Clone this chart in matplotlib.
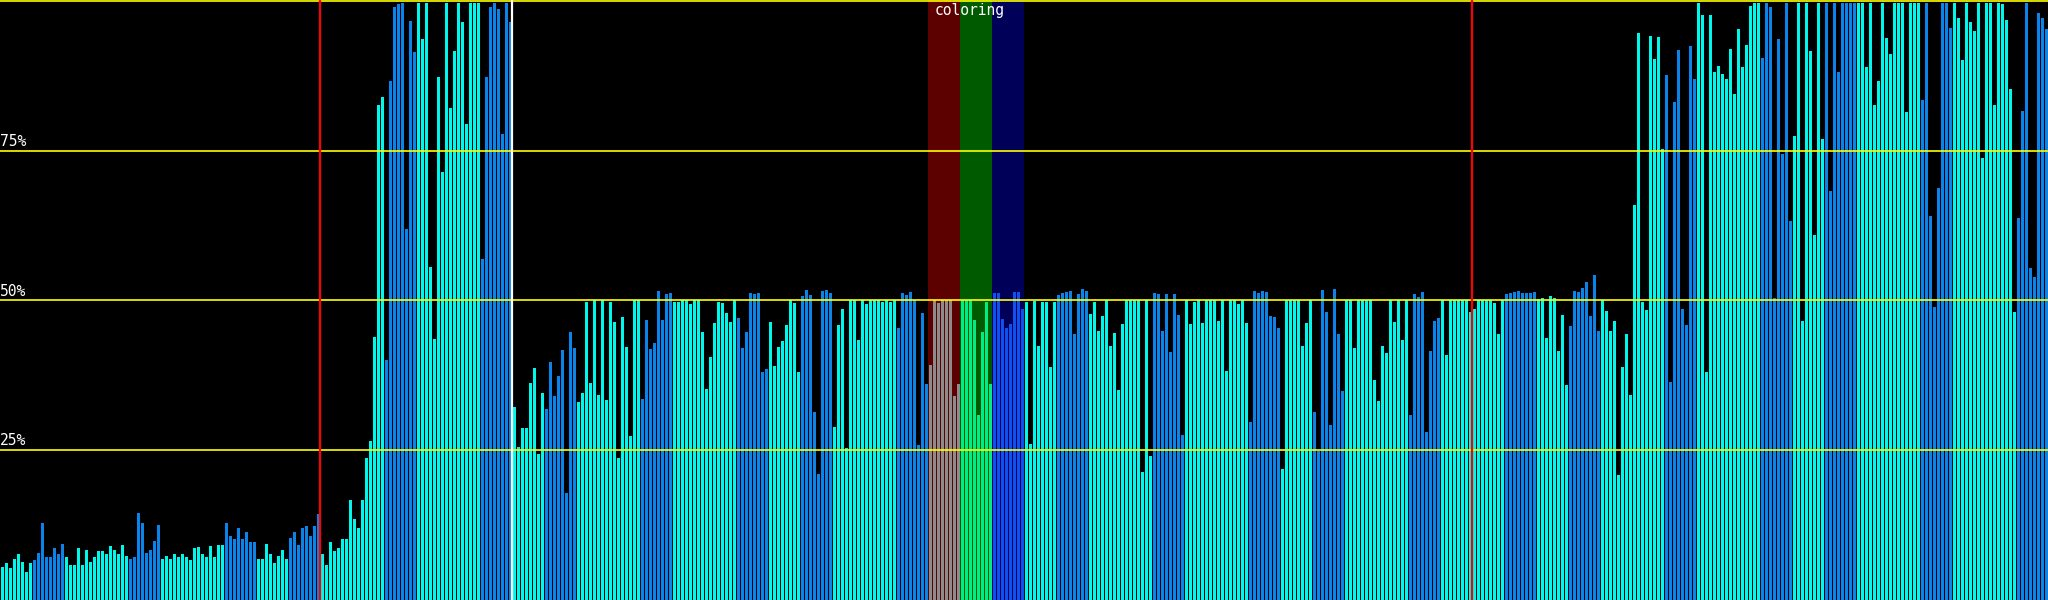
import matplotlib
matplotlib.use("Agg")
import matplotlib.pyplot as plt
import numpy as np

# bar heights in percent (512 bars)
vals_a = [
    5.5, 6.2, 5.3, 6.8, 7.6, 6.4, 4.6, 6.1,
    6.6, 7.9, 12.9, 7.1, 7.1, 8.6, 7.6, 9.3,
    7.1, 5.9, 5.8, 8.6, 5.9, 8.4, 6.3, 7.2,
    8.1, 8.1, 7.7, 9.0, 8.3, 7.6, 9.1, 7.4,
    6.8, 7.2, 14.6, 12.9, 7.9, 8.3, 9.9, 12.6,
    6.8, 7.4, 6.9, 7.7, 7.2, 7.6, 7.2, 6.6,
    8.6, 8.8, 7.6, 7.1, 9.0, 7.1, 9.1, 9.1,
    12.9, 10.7, 10.2, 12.1, 10.2, 11.3, 9.6, 9.6,
    6.9, 6.8, 9.3, 7.7, 6.1, 7.4, 8.4, 6.8,
    10.4, 11.3, 9.1, 12.1, 12.3, 10.6, 12.3, 14.4,
    7.7, 5.8, 9.6, 8.1, 8.6, 10.1, 10.2, 16.7,
    13.6, 12.0, 16.7, 23.7, 26.6, 43.9, 82.7, 84.0,
    40.0, 86.7, 99.0, 99.5, 99.7, 61.9, 96.7, 91.5,
    99.7, 93.7, 99.7, 55.5, 43.6, 87.3, 71.5, 99.7,
    82.2, 91.7, 99.7, 96.4, 79.5, 99.7, 99.7, 99.7,
    56.9, 87.3, 99.0, 99.7, 98.7, 77.7, 99.7, 96.4,
]
vals_b = [
    32.2, 25.6, 28.7, 28.7, 36.2, 38.7, 24.4, 34.6,
    31.8, 39.7, 34.1, 37.4, 41.7, 17.8, 44.7, 42.1,
    33.0, 34.6, 49.7, 36.2, 50.0, 34.3, 50.0, 33.4,
    49.7, 46.4, 23.7, 47.2, 42.2, 27.4, 50.0, 50.0,
    33.5, 46.7, 41.9, 42.9, 51.6, 46.7, 51.1, 51.2,
    49.7, 49.7, 50.0, 50.0, 49.4, 50.0, 50.0, 44.7,
    35.2, 40.6, 46.2, 49.7, 49.5, 47.9, 46.4, 50.0,
    47.1, 42.1, 44.7, 51.2, 51.1, 51.2, 38.1, 38.6,
    46.4, 39.1, 42.2, 43.2, 45.9, 50.0, 49.5, 38.1,
    50.7, 51.7, 50.9, 31.4, 21.1, 51.6, 51.7, 51.2,
    28.9, 45.9, 48.5, 25.4, 50.0, 50.0, 43.4, 50.0,
    49.4, 50.0, 50.0, 50.0, 49.7, 50.0, 49.7, 50.0,
    45.4, 51.2, 50.9, 51.4, 50.0, 25.9, 47.9, 36.0,
    39.2, 50.0, 49.5, 50.0, 50.0, 50.0, 34.1, 36.0,
    50.0, 50.0, 50.0, 46.7, 30.9, 44.7, 49.7, 36.0,
    51.2, 51.2, 46.9, 45.4, 46.0, 51.4, 51.4, 48.5,
]
vals_c = [
    49.7, 26.1, 49.9, 42.4, 49.7, 49.7, 38.9, 49.7,
    50.9, 51.2, 51.4, 51.6, 44.4, 51.1, 51.9, 51.6,
    47.7, 49.7, 44.9, 47.4, 50.0, 42.4, 44.6, 35.1,
    46.0, 50.0, 50.0, 50.0, 50.0, 21.4, 50.0, 24.1,
    51.2, 51.1, 44.9, 51.1, 41.4, 51.1, 47.6, 27.6,
    50.0, 46.0, 49.7, 50.0, 46.2, 50.0, 50.0, 50.0,
    46.5, 50.0, 38.2, 50.0, 50.0, 49.4, 50.0, 46.2,
    29.7, 51.6, 51.2, 51.6, 51.4, 47.4, 47.2, 45.4,
    21.9, 50.0, 50.0, 50.0, 50.0, 42.4, 46.2, 50.0,
    31.4, 24.8, 51.7, 48.1, 29.2, 51.9, 44.4, 34.9,
    50.0, 50.0, 42.1, 50.0, 50.0, 50.0, 50.0, 36.7,
    33.2, 42.4, 41.2, 50.0, 46.4, 50.0, 43.4, 50.0,
    30.9, 51.1, 50.6, 51.4, 28.1, 41.6, 46.5, 47.1,
    50.0, 40.9, 50.0, 50.0, 50.0, 50.0, 50.0, 48.1,
    48.5, 50.0, 50.0, 50.0, 50.0, 49.5, 44.4, 50.0,
    51.1, 51.2, 51.4, 51.6, 51.2, 51.2, 51.2, 51.4,
]
vals_d = [
    50.2, 50.4, 43.7, 50.7, 50.4, 41.6, 47.6, 35.9,
    45.7, 51.6, 51.4, 52.0, 53.0, 47.4, 54.2, 44.9,
    50.0, 48.2, 44.9, 46.5, 20.9, 38.9, 44.4, 34.3,
    65.9, 94.6, 49.7, 48.4, 94.2, 90.3, 94.0, 75.3,
    87.7, 36.4, 83.2, 91.8, 48.5, 45.9, 92.5, 86.9,
    99.7, 97.6, 38.1, 97.6, 88.1, 89.2, 87.8, 86.9,
    92.0, 84.5, 95.3, 89.0, 92.7, 99.2, 99.7, 99.7,
    90.5, 99.7, 98.9, 50.4, 93.7, 74.5, 99.7, 63.2,
    77.5, 99.7, 46.5, 99.7, 91.7, 61.0, 99.7, 77.0,
    99.7, 68.2, 99.7, 88.1, 99.7, 99.7, 99.7, 99.7,
    99.7, 99.7, 89.0, 99.7, 82.7, 86.7, 99.7, 93.8,
    91.1, 99.7, 99.7, 99.7, 81.5, 99.7, 99.7, 99.7,
    83.5, 99.7, 64.1, 48.9, 68.8, 99.7, 99.7, 95.5,
    99.7, 97.2, 90.2, 99.7, 96.4, 95.0, 99.7, 73.7,
    99.7, 99.7, 82.7, 99.7, 99.5, 96.8, 85.3, 48.1,
    63.7, 81.7, 99.7, 55.4, 53.9, 98.0, 97.2, 95.3,
]

# colour of each block of 8 bars
group = ["c", "b", "c", "c", "b", "c", "c", "b", "c", "b", "c", "c", "b", "c", "c", "b"]
block_keys = group + group[:13] + ["r", "g", "u"] + group + group
palette = {"c": "#00f8ec", "b": "#0a84ea", "r": "#8c8c8c", "g": "#00ec84", "u": "#1050f0"}
band_bg = {"r": "#5c0000", "g": "#005a00", "u": "#000058"}

markers = [(80, "#ff0000"), (128, "#ffffff"), (368, "#ff0000")]
grid_levels = [25, 50, 75, 100]
grid_labels = ["25%", "50%", "75%"]
title = "coloring"
block = 8

values = np.array(vals_a + vals_b + vals_c + vals_d)
n = len(values)
colors = [palette[block_keys[i // block]] for i in range(n)]

fig = plt.figure(figsize=(20.48, 6), dpi=100, facecolor="black")
ax = fig.add_axes([0, 0, 1, 1])
ax.set_facecolor("black")
ax.set_xlim(0, n)
ax.set_ylim(0, 100.15)
ax.axis("off")

# highlighted bands behind the bars
for b, key in enumerate(block_keys):
    if key in band_bg:
        ax.axvspan(b * block, (b + 1) * block, color=band_bg[key], lw=0, zorder=0)

x = np.arange(n)
ax.bar(x + 0.25, values, width=0.75, align="edge",
       color=colors, linewidth=0, antialiased=False, zorder=2)

for lvl in grid_levels:
    ax.axhline(lvl, color="#ffff00", lw=1.2, zorder=3)
for lvl, lab in zip(grid_levels, grid_labels):
    ax.text(0.0, lvl + 0.3, lab, color="white", fontsize=10.5,
            family="DejaVu Sans Mono", ha="left", va="bottom", zorder=4)

for idx, col in markers:
    ax.axvline(idx - 0.1, color=col, lw=1.6, zorder=3)

hl = [b for b, k in enumerate(block_keys) if k in band_bg]
ax.text((hl[0] * block + (hl[-1] + 1) * block) / 2 - 1.5, 99.6, title,
        color="white", fontsize=10.5, family="DejaVu Sans Mono",
        ha="center", va="top", zorder=4)

fig.savefig("out.png", dpi=100, facecolor="black")
